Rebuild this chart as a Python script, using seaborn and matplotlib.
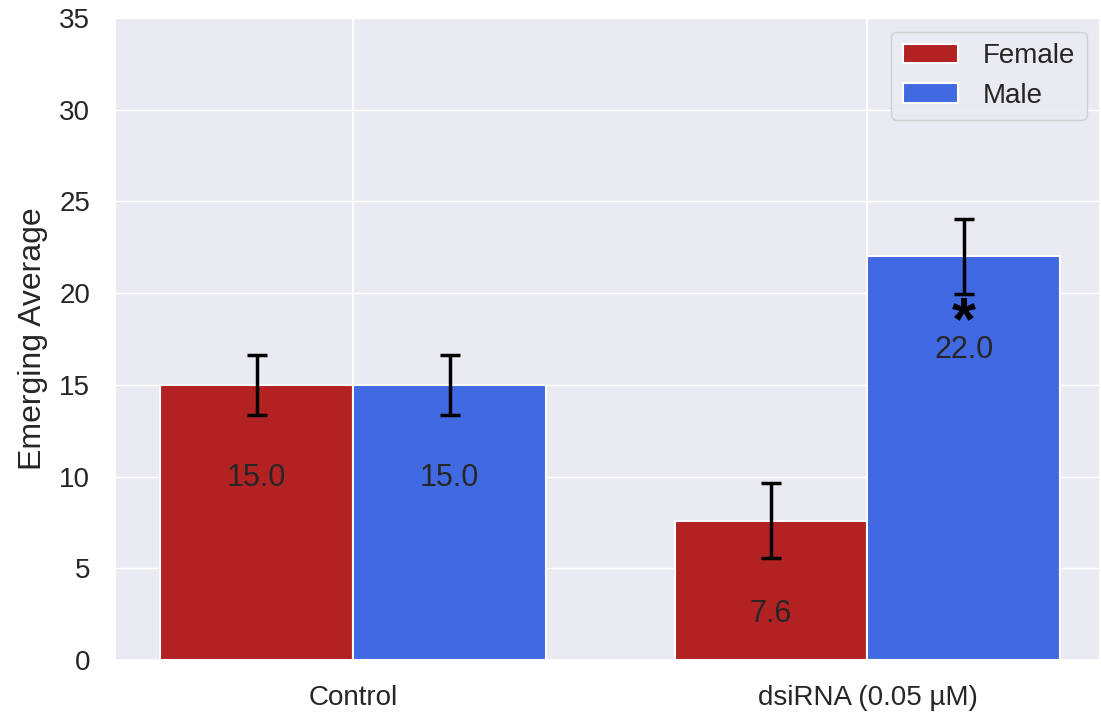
import numpy as np
import pandas as pd
import seaborn as sns
import matplotlib.pyplot as plt

groups = ["Control", "dsiRNA (0.05 µM)"]
sexes = ["Female", "Male"]
female_means = [15.0, 7.6]
male_means = [15.0, 22.0]
female_err = [1.65, 2.05]
male_err = [1.65, 2.05]
significant = [(1, "Male")]

df = pd.DataFrame({
    "Treatment": groups * 2,
    "Sex": ["Female"] * 2 + ["Male"] * 2,
    "Mean": female_means + male_means,
    "Err": female_err + male_err,
})

sns.set_theme(style="darkgrid")
plt.rcParams['font.family'] = ['Liberation Sans', 'DejaVu Sans']

fig = plt.figure(figsize=(11.01, 7.19), dpi=100)
ax = fig.add_axes([0.1045, 0.082, 0.895, 0.893])

ax = sns.barplot(
    data=df, x="Treatment", y="Mean", hue="Sex",
    hue_order=sexes, palette=["#b22222", "#4169e1"], saturation=1,
    width=0.75, errorbar=None, edgecolor="white", linewidth=1.5, ax=ax,
)

for container, sex in zip(ax.containers, sexes):
    sub = df[df["Sex"] == sex]
    for bar, (_, row) in zip(container, sub.iterrows()):
        xc = bar.get_x() + bar.get_width() / 2
        h = bar.get_height()
        ax.errorbar(xc, h, yerr=row["Err"], fmt="none", ecolor="black",
                    elinewidth=2.5, capsize=7.5, capthick=2.5, zorder=5)
        ax.text(xc, h - 5.1, f"{h:.1f}", ha="center", va="center",
                fontsize=22, color="#262626")
        gi = groups.index(row["Treatment"])
        if (gi, sex) in significant:
            # star sits just under the lower cap
            ax.text(xc, h - row["Err"] - 0.05, "*", ha="center", va="top",
                    fontsize=44, fontweight="bold", color="black")

ax.xaxis.grid(True, color="white", linewidth=1.5)
ax.set_axisbelow(True)
ax.set_xlim(-0.463, 1.453)
ax.set_ylim(0, 35)
ax.set_xlabel("")
ax.set_ylabel("Emerging Average", fontsize=23, labelpad=8)
ax.tick_params(axis="y", labelsize=20, pad=12)
ax.tick_params(axis="x", labelsize=20, pad=12)
ax.legend(loc="upper right", fontsize=20, handlelength=2, handletextpad=0.9,
          frameon=True, framealpha=0.85, edgecolor="#cccccc")

fig.savefig("out.png", dpi=100)
